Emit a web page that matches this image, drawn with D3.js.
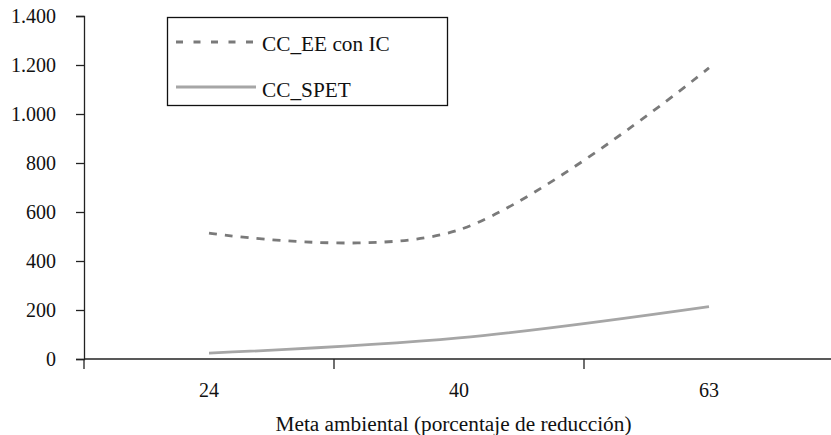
<!DOCTYPE html>
<html><head><meta charset="utf-8">
<script src="https://cdn.jsdelivr.net/npm/d3@7"></script>
<style>body{margin:0;background:#fff}</style>
</head><body>
<svg id="c" width="831" height="435"></svg>
<script>
const categories = ["24", "40", "63"];
const seriesNames = ["CC_EE con IC", "CC_SPET"];
const ccEE = [514, 527, 1188];
const ccSPET = [24, 86, 214];
const yTicks = [0, 200, 400, 600, 800, 1000, 1200, 1400];
const yTickLabels = ["0", "200", "400", "600", "800", "1.000", "1.200", "1.400"];

const svg = d3.select("#c");
const font = "'Liberation Serif', 'Times New Roman', serif";
const mLeft = 84, mRight = 834, mTop = 16, mBottom = 359;

const x = d3.scaleBand().domain(categories).range([mLeft, mRight]).paddingInner(0).paddingOuter(0);
const y = d3.scaleLinear().domain([0, 1400]).range([mBottom, mTop]);

// y axis
const ya = svg.append("g").attr("transform", `translate(${mLeft},0)`)
  .call(d3.axisLeft(y).tickValues(yTicks).tickSize(8).tickPadding(20)
    .tickFormat((d, i) => yTickLabels[i]));
ya.select(".domain").attr("stroke", "#222").attr("stroke-width", 1.3);
ya.selectAll(".tick line").attr("stroke", "#222").attr("stroke-width", 1.3);
ya.selectAll("text").attr("font-family", font).attr("font-size", 20).attr("fill", "#111");

// x axis line and ticks at category boundaries
const xa = svg.append("g").attr("transform", `translate(0,${mBottom})`);
xa.append("line").attr("x1", mLeft).attr("x2", 831).attr("y1", 0).attr("y2", 0)
  .attr("stroke", "#222").attr("stroke-width", 1.3);
const bounds = categories.map(c => x(c)).concat([x(categories[categories.length-1]) + x.bandwidth()]);
xa.selectAll("line.tk").data(bounds).enter().append("line").attr("class", "tk")
  .attr("x1", d => d).attr("x2", d => d).attr("y1", 0).attr("y2", 10)
  .attr("stroke", "#222").attr("stroke-width", 1.3);
xa.selectAll("text.cl").data(categories).enter().append("text").attr("class", "cl")
  .attr("x", d => x(d) + x.bandwidth() / 2).attr("y", 37.5)
  .attr("text-anchor", "middle").attr("font-family", font).attr("font-size", 20).attr("fill", "#111")
  .text(d => d);
svg.append("text").attr("x", 453.5).attr("y", 431).attr("text-anchor", "middle")
  .attr("font-family", font).attr("font-size", 21.3).attr("fill", "#111")
  .text("Meta ambiental (porcentaje de reducción)");

const line = d3.line().x((d, i) => x(categories[i]) + x.bandwidth() / 2).y(d => y(d))
  .curve(d3.curveCardinal.tension(0));

svg.append("path").datum(ccEE).attr("d", line).attr("fill", "none")
  .attr("stroke", "#7a7a7a").attr("stroke-width", 2.8).attr("stroke-dasharray", "8,8");
svg.append("path").datum(ccSPET).attr("d", line).attr("fill", "none")
  .attr("stroke", "#a6a6a6").attr("stroke-width", 2.8);

// legend
const lg = svg.append("g");
lg.append("rect").attr("x", 167.5).attr("y", 17.5).attr("width", 280).attr("height", 88)
  .attr("fill", "#fff").attr("stroke", "#111").attr("stroke-width", 1.3);
lg.append("line").attr("x1", 176).attr("x2", 256).attr("y1", 42).attr("y2", 42)
  .attr("stroke", "#7a7a7a").attr("stroke-width", 2.8).attr("stroke-dasharray", "7,10.5");
lg.append("line").attr("x1", 176).attr("x2", 256).attr("y1", 87).attr("y2", 87)
  .attr("stroke", "#a6a6a6").attr("stroke-width", 2.8);
lg.selectAll("text").data(seriesNames).enter().append("text")
  .attr("x", 262).attr("y", (d, i) => 51 + i * 46)
  .attr("font-family", font).attr("font-size", 21.3).attr("fill", "#111").text(d => d);
</script>
</body></html>
